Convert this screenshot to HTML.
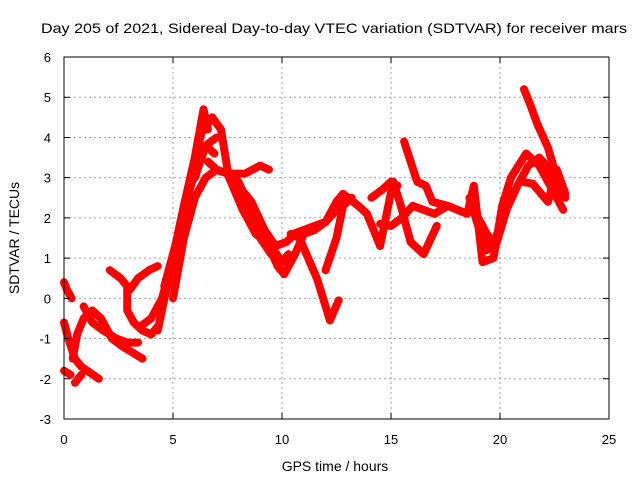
<!DOCTYPE html>
<html><head><meta charset="utf-8"><style>
body{margin:0;background:#fff}
svg{display:block;font-family:"Liberation Sans",sans-serif}
</style></head><body>
<svg id="chart" width="640" height="480" viewBox="0 0 640 480">
<text x="334" y="33" font-size="14" text-anchor="middle" textLength="586" lengthAdjust="spacingAndGlyphs">Day 205 of 2021, Sidereal Day-to-day VTEC variation (SDTVAR) for receiver mars</text>
<g id="grid"></g>
<g id="series"></g>
<rect x="64" y="57" width="545" height="362" fill="none" stroke="#000" stroke-width="1"/>
<g id="axes"></g>
<text x="335" y="471" font-size="14" text-anchor="middle">GPS time / hours</text>
<text x="0" y="0" font-size="14" text-anchor="middle" transform="translate(19,238) rotate(-90)">SDTVAR / TECUs</text>
</svg>
<script>
const xTicks=[0,5,10,15,20,25];
const yTicks=[-3,-2,-1,0,1,2,3,4,5,6];
const trackHours=[
 [0,0.15,0.35],
 [0,0.2,0.5,0.8,1.2,1.6],
 [0,0.3],
 [0.5,0.8],
 [0.4,0.6,0.9,1.3,1.7,2.2,2.7,3.3,3.6],
 [0.9,1.3,1.8,2.4,2.9,3.4],
 [2.1,2.6,2.9,2.9,3.2,3.6,4.0,4.3],
 [3.0,3.4,3.9,4.3],
 [3.5,4.0,4.5,5.0,5.5,6.0,6.4,6.6],
 [4.3,4.8,5.3,5.8,6.3,6.8,7.2,7.5,8.0,8.5,9.0,9.5],
 [5.0,5.5,6.0,6.5,7.0,7.5,8.0,8.5,9.0,9.5,10.0,10.3],
 [6.6,7.0,7.5,8.3,9.0,9.4],
 [6.0,6.5,7.0],
 [4.6,5.1,5.6,6.1,6.5,6.9],
 [7.5,8.2,8.8,9.3,9.8,10.1,10.6,11.0,11.5,12.0,12.5,12.8],
 [8.0,8.6,9.2,9.7,10.2,10.6],
 [10.4,10.8,11.2,11.6,12.0,12.2,12.6],
 [10.5,11.5,12.0,12.5,12.8,13.5,13.9,14.5,15.1,15.4,15.9,16.5,17.1],
 [12.0,12.5,12.8,13.2],
 [14.1,14.6,15.0,15.3],
 [14.5,15.0,15.5,16.0,16.5,17.0,17.6,18.5,18.8,19.2,19.7,20.1,20.5,21.2,21.8,22.4,22.9],
 [15.6,15.9,16.2,16.6,16.9,17.6],
 [18.6,19.0,19.4,19.8,20.2],
 [19.0,19.4,19.8,20.3,20.8,21.3,21.8,22.3,22.8],
 [21.1,21.4,21.7,22.2,22.6,23.0],
 [21.0,21.5,22.2,22.6,23.0]
];
const trackValues=[
 [0.4,0.2,0],
 [-0.6,-1.0,-1.5,-1.7,-1.85,-2.0],
 [-1.8,-1.9],
 [-2.1,-1.9],
 [-1.5,-0.9,-0.5,-0.3,-0.5,-1.0,-1.2,-1.4,-1.5],
 [-0.2,-0.6,-0.8,-1.0,-1.1,-1.1],
 [0.7,0.5,0.3,-0.3,-0.6,-0.8,-0.9,-0.7],
 [0.2,0.5,0.7,0.8],
 [-0.7,-0.5,0,1.0,2.3,3.5,4.7,4.2],
 [-0.8,0.5,1.8,3.0,4.1,4.5,4.2,3.2,2.5,2.1,1.5,1.1],
 [0,1.5,2.5,3.0,3.2,3.1,2.9,2.3,1.8,1.3,0.9,1.1],
 [3.4,3.2,3.1,3.1,3.3,3.2],
 [3.0,3.8,4.0],
 [0.3,1.3,2.4,3.3,3.8,3.6],
 [3.1,2.2,1.6,1.4,0.8,0.6,1.1,1.6,1.7,1.9,2.2,2.5],
 [2.8,2.4,1.7,1.3,1.4,1.6],
 [1.6,1.5,1.0,0.5,-0.2,-0.55,-0.05],
 [1.6,1.8,1.9,2.4,2.6,2.3,2.1,1.3,2.9,2.4,1.4,1.1,1.8],
 [0.7,1.5,2.3,2.5],
 [2.5,2.7,2.9,2.8],
 [1.85,1.8,2.0,2.3,2.2,2.1,2.3,2.1,2.8,0.9,1.0,2.3,3.0,3.6,3.3,2.7,2.2],
 [3.9,3.4,2.9,2.8,2.4,2.3],
 [2.5,1.8,1.2,1.5,2.1],
 [2.0,1.6,1.3,2.2,2.8,3.3,3.5,3.2,2.6],
 [5.2,4.8,4.35,3.75,3.0,2.5],
 [2.9,2.85,2.4,3.2,2.6]
];
const svg=document.getElementById('chart');
const NS='http://www.w3.org/2000/svg';
const X0=64,X1=609,Y0=419,Y1=57;
function xs(h){return X0+(h-0)/(25-0)*(X1-X0);}
function ys(v){return Y0-(v-(-3))/(6-(-3))*(Y0-Y1);}
const grid=document.getElementById('grid'),axes=document.getElementById('axes'),series=document.getElementById('series');
xTicks.forEach(t=>{
 const x=xs(t);
 if(t>0&&t<25){
  const l=document.createElementNS(NS,'line');
  
  
  l.setAttribute('x1',x);l.setAttribute('x2',x);l.setAttribute('y1',Y1);l.setAttribute('y2',Y0);
  l.setAttribute('stroke','#a0a0a0');l.setAttribute('stroke-dasharray','2,3');
  grid.appendChild(l);
 }
 const tk=document.createElementNS(NS,'path');
 
 
 tk.setAttribute('d',`M${x},${Y0}v-6M${x},${Y1}v6`);tk.setAttribute('stroke','#000');
 axes.appendChild(tk);
 const tx=document.createElementNS(NS,'text');
 
 
 tx.setAttribute('x',x);tx.setAttribute('y',444);tx.setAttribute('font-size','13');tx.setAttribute('text-anchor','middle');
 tx.textContent=t;axes.appendChild(tx);
});
yTicks.forEach(t=>{
 const y=ys(t);
 if(t>-3&&t<6){
  const l=document.createElementNS(NS,'line');
  
  
  l.setAttribute('x1',X0);l.setAttribute('x2',X1);l.setAttribute('y1',y);l.setAttribute('y2',y);
  l.setAttribute('stroke','#a0a0a0');l.setAttribute('stroke-dasharray','2,3');
  grid.appendChild(l);
 }
 const tk=document.createElementNS(NS,'path');
 
 
 tk.setAttribute('d',`M${X0},${y}h6M${X1},${y}h-6`);tk.setAttribute('stroke','#000');
 axes.appendChild(tk);
 const tx=document.createElementNS(NS,'text');
 
 
 tx.setAttribute('x',51);tx.setAttribute('y',y+5);tx.setAttribute('font-size','13');tx.setAttribute('text-anchor','end');
 tx.textContent=t;axes.appendChild(tx);
});
trackHours.forEach((hs,i)=>{
 const vs=trackValues[i];
 const p=document.createElementNS(NS,'polyline');
 
 
 p.setAttribute('points',hs.map((h,j)=>xs(h)+','+ys(vs[j])).join(' '));
 p.setAttribute('fill','none');p.setAttribute('stroke','#ff0000');p.setAttribute('stroke-width','8');
 p.setAttribute('stroke-linejoin','round');p.setAttribute('stroke-linecap','round');
 series.appendChild(p);
});
</script>
</body></html>
